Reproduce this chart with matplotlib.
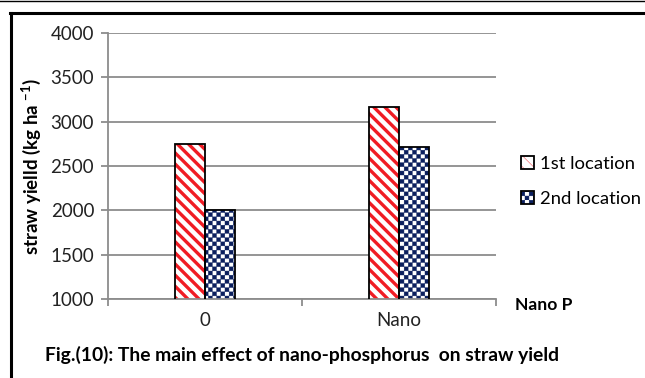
import numpy as np
import matplotlib
matplotlib.use('Agg')
import matplotlib.pyplot as plt
import matplotlib.hatch as mhatch
from matplotlib.path import Path
from matplotlib.lines import Line2D
from matplotlib.legend_handler import HandlerTuple


categories = ['0', 'Nano']
loc1 = [2750, 3160]
loc2 = [2005, 2710]
series_names = ['1st location', '2nd location']
yticks = [1000, 1500, 2000, 2500, 3000, 3500, 4000]


class CheckerHatch(mhatch.HatchPatternBase):
    # filled squares on a checkerboard, used for the '*' hatch
    def __init__(self, hatch, density):
        self.n = hatch.count('*') * density
        self.num_vertices = (self.n * self.n // 2) * 5

    def set_vertices_and_codes(self, vertices, codes):
        s = 1.0 / self.n
        sq = np.array([[0, 0], [s, 0], [s, s], [0, s], [0, 0]]) * 0.95
        k = 0
        for i in range(self.n):
            for j in range(self.n):
                if (i + j) % 2 == 0:
                    vertices[k:k + 5] = sq + [i * s, j * s]
                    codes[k:k + 5] = [Path.MOVETO, Path.LINETO, Path.LINETO,
                                      Path.LINETO, Path.CLOSEPOLY]
                    k += 5


mhatch._hatch_types = [t for t in mhatch._hatch_types if t is not mhatch.Stars]
mhatch._hatch_types.append(CheckerHatch)

plt.rcParams['font.family'] = ['Lato', 'DejaVu Sans']
plt.rcParams['mathtext.fontset'] = 'custom'
plt.rcParams['mathtext.rm'] = 'Lato:bold'
plt.rcParams['mathtext.bf'] = 'Lato:bold'

RED = '#f01c24'
NAVY = '#0b1f5e'
GRID = '#8c8c8c'

fig = plt.figure(figsize=(6.45, 3.78), dpi=100)
ax = fig.add_axes([108 / 645, 1 - 299 / 378, 388 / 645, 266 / 378])

x = np.arange(len(categories))
w = 0.155

plt.rcParams['hatch.linewidth'] = 2.4
h1 = ax.bar(x - w / 2, loc1, w, color='white', edgecolor=RED,
            hatch='\\\\\\', linewidth=0, zorder=2)
plt.rcParams['hatch.linewidth'] = 0.3
h2 = ax.bar(x + w / 2, loc2, w, color='white', edgecolor=NAVY,
            hatch='****', linewidth=0, zorder=2)
o1 = ax.bar(x - w / 2, loc1, w, fill=False, edgecolor='black', linewidth=1.3, zorder=3)
o2 = ax.bar(x + w / 2, loc2, w, fill=False, edgecolor='black', linewidth=1.3, zorder=3)

ax.set_ylim(1000, 4000)
ax.set_xlim(-0.5, len(categories) - 0.5)
ax.set_yticks(yticks)
ax.set_xticks(x)
ax.set_xticklabels(categories)
ax.set_xticks(np.arange(len(categories) + 1) - 0.5, minor=True)
ax.tick_params(axis='x', which='major', length=0, pad=9, labelsize=13.5, labelcolor='#222222')
ax.tick_params(axis='x', which='minor', length=5, color=GRID, width=1.3)
ax.tick_params(axis='y', length=5, color=GRID, width=1.3, pad=5, labelsize=13.5, labelcolor='#222222')

ax.yaxis.grid(True, color=GRID, linewidth=1.3, zorder=0)
ax.set_axisbelow(True)
for side in ['top', 'right']:
    ax.spines[side].set_visible(False)
for side in ['left', 'bottom']:
    ax.spines[side].set_color(GRID)
    ax.spines[side].set_linewidth(1.3)

ax.set_ylabel('straw yielld (kg ha $^{-1}$)', fontsize=13.5, fontweight='bold', labelpad=5)

ax.legend([(h1[0], o1[0]), (h2[0], o2[0])], series_names,
          handler_map={tuple: HandlerTuple(ndivide=1)},
          loc='upper left', bbox_to_anchor=(1.045, 0.565), frameon=False,
          fontsize=13.3, handlelength=0.7, handleheight=0.7,
          handletextpad=0.35, labelspacing=1.0, borderaxespad=0)

fig.text(515 / 645, 1 - 305 / 378, 'Nano P', fontsize=12.6, fontweight='bold',
         va='center', ha='left')
fig.text(45 / 645, 1 - 355 / 378,
         'Fig.(10): The main effect of nano-phosphorus  on straw yield',
         fontsize=13.9, fontweight='bold', va='center', ha='left')

# page frame around the figure
fig.add_artist(Line2D([0, 1], [1 - 0.5 / 378] * 2, color='black', linewidth=1))
fig.add_artist(Line2D([10 / 645, 1], [1 - 13 / 378] * 2, color='black', linewidth=2.2))
fig.add_artist(Line2D([11 / 645] * 2, [1 - 13 / 378, 0], color='black', linewidth=2.2))

fig.savefig('out.png', dpi=100)
